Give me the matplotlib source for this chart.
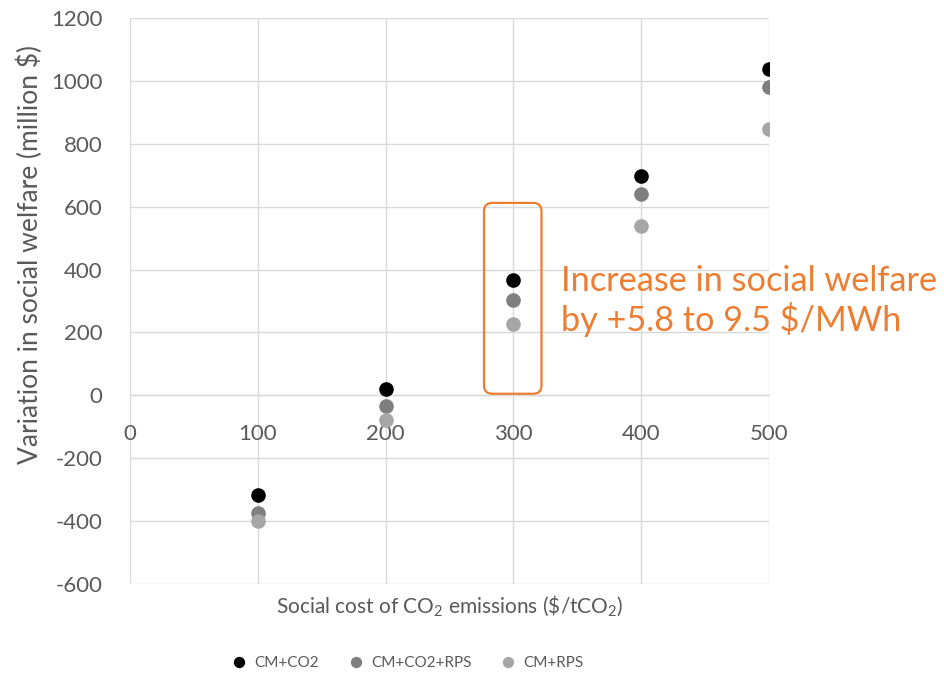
import matplotlib
matplotlib.use('Agg')
import matplotlib.pyplot as plt
from matplotlib.patches import FancyBboxPatch

plt.rcParams['font.family'] = ['Lato', 'DejaVu Sans']
plt.rcParams['mathtext.fontset'] = 'custom'
plt.rcParams['mathtext.rm'] = 'Lato'
plt.rcParams['mathtext.it'] = 'Lato'
plt.rcParams['axes.unicode_minus'] = False

# social cost of CO2 ($/tCO2)
social_cost = [100, 200, 300, 400, 500]

# variation in social welfare (million $)
cm_co2 = [-317, 20, 366, 699, 1039]
cm_co2_rps = [-373, -35, 302, 640, 981]
cm_rps = [-400, -80, 226, 537, 848]

series_names = ['CM+CO2', 'CM+CO2+RPS', 'CM+RPS']
series_colors = ['#000000', '#7F7F7F', '#A6A6A6']

x_ticks = [0, 100, 200, 300, 400, 500]
y_ticks = [-600, -400, -200, 0, 200, 400, 600, 800, 1000, 1200]

W, H = 944, 675
fig = plt.figure(figsize=(W / 100, H / 100), dpi=100)
ax = fig.add_axes([130 / W, 1 - 584 / H, 639 / W, 566 / H])

for vals, name, col in zip([cm_co2, cm_co2_rps, cm_rps], series_names, series_colors):
    ax.plot(social_cost, vals, linestyle='none', marker='o', markersize=9.5,
            color=col, label=name, zorder=3)

ax.set_xlim(0, 500)
ax.set_ylim(-600, 1200)
ax.set_xticks(x_ticks)
ax.set_yticks(y_ticks)
ax.grid(True, color='#D9D9D9', linewidth=1.0)
ax.set_axisbelow(True)
for side in ['top', 'right', 'left']:
    ax.spines[side].set_visible(False)
ax.spines['bottom'].set_position(('data', 0))
ax.spines['bottom'].set_color('#D9D9D9')
ax.spines['bottom'].set_linewidth(1.0)
ax.tick_params(axis='both', length=0, labelsize=16, labelcolor='#595959')
ax.tick_params(axis='x', pad=21)
ax.tick_params(axis='y', pad=20)

# annotation box around the 300 $/tCO2 points
box = FancyBboxPatch((277, 5), 45, 607,
                     boxstyle='round,pad=0,rounding_size=6.5',
                     mutation_aspect=4.06, fill=False,
                     edgecolor='#ED7D31', linewidth=1.6, zorder=4)
ax.add_patch(box)
ax.text(337, 300, 'Increase in social welfare\nby +5.8 to 9.5 $/MWh',
        color='#ED7D31', fontsize=24.7, va='center', ha='left',
        linespacing=1.15, clip_on=False)

fig.text(30 / W, 1 - 255 / H, 'Variation in social welfare (million $)',
         rotation=90, ha='center', va='center', fontsize=19, color='#595959')
fig.text(450 / W, 1 - 606 / H, r'Social cost of CO$_2$ emissions (\$/tCO$_2$)',
         ha='center', va='center', fontsize=15, color='#595959')

fig.legend(loc='center', bbox_to_anchor=(404 / W, 1 - 663 / H), ncol=3,
           frameon=False, fontsize=11, labelcolor='#595959',
           handletextpad=0.0, columnspacing=1.4, markerscale=0.75)

fig.savefig('out.png', dpi=100)
